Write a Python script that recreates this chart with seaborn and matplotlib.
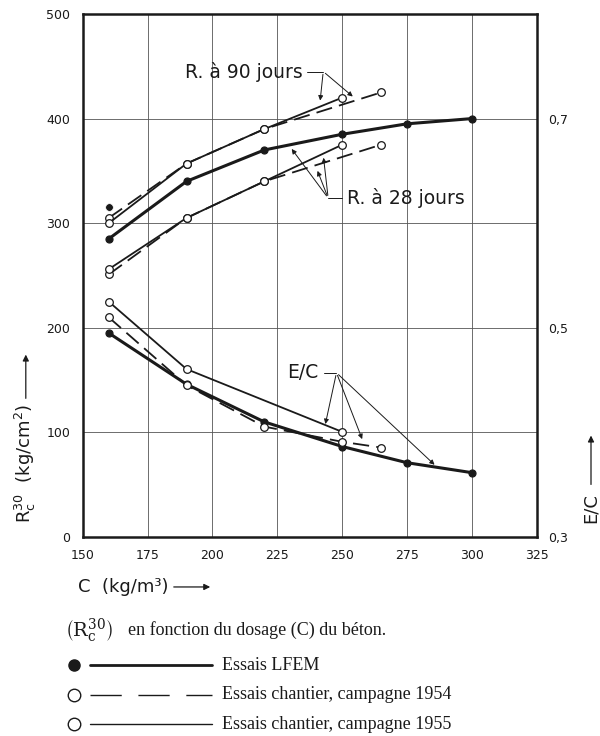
import matplotlib
matplotlib.use("Agg")
import matplotlib.pyplot as plt
import seaborn as sns
import pandas as pd
from matplotlib.lines import Line2D
from matplotlib import font_manager

sns.set_theme(style="white")
_names = {f.name for f in font_manager.fontManager.ttflist}
NARROW = "Liberation Sans Narrow" if "Liberation Sans Narrow" in _names else "DejaVu Sans"
SERIF = "Liberation Serif" if "Liberation Serif" in _names else "DejaVu Serif"
plt.rcParams["font.family"] = [NARROW, "DejaVu Sans"]
plt.rcParams["mathtext.fontset"] = "custom"
plt.rcParams["mathtext.rm"] = NARROW

# ---- data (left axis: R in kg/cm2; E/C values on right axis scale) ----
lfem_c28 = [160, 190, 220, 250, 275, 300]
lfem_r28 = [285, 340, 370, 385, 395, 400]
lfem_c90 = [160]
lfem_r90 = [315]
lfem_c_ec = [160, 190, 220, 250, 275, 300]
lfem_ec = [0.69, 0.592, 0.52, 0.473, 0.442, 0.423]

c54_c = [160, 190, 220, 265]
c54_r90 = [305, 357, 390, 425]
c54_r28 = [251, 305, 340, 375]
c54_c_ec = [160, 190, 220, 250, 265]
c54_ec = [0.72, 0.59, 0.511, 0.482, 0.471]

c55_c = [160, 190, 220, 250]
c55_r90 = [300, 357, 390, 420]
c55_r28 = [256, 305, 340, 375]
c55_c_ec = [160, 190, 250]
c55_ec = [0.75, 0.621, 0.501]

x_ticks = [150, 175, 200, 225, 250, 275, 300, 325]
y_ticks = [0, 100, 200, 300, 400, 500]
ec_ticks = [0.3, 0.5, 0.7]
ec_labels = ["0,3", "0,5", "0,7"]


def ec_to_r(v):
    return [(e - 0.3) / 0.002 for e in v]


fig = plt.figure(figsize=(6, 7.36), dpi=100)
ax = fig.add_axes([0.138, 0.2704, 0.7565, 0.7106])
ink = "#1a1a1a"

def draw(cx, vals, lw, dash, marker_fill):
    df = pd.DataFrame({"C": cx, "R": vals})
    sns.lineplot(data=df, x="C", y="R", ax=ax, color=ink, lw=lw,
                 linestyle=dash, marker="o", markersize=5 if marker_fill else 5.5,
                 markerfacecolor=ink if marker_fill else "white",
                 markeredgecolor=ink, markeredgewidth=0.9, zorder=3)

# LFEM (thick solid, filled dots)
draw(lfem_c28, lfem_r28, 2.2, "-", True)
draw(lfem_c_ec, ec_to_r(lfem_ec), 2.2, "-", True)
sns.scatterplot(x=lfem_c90, y=lfem_r90, ax=ax, color=ink, s=30, zorder=4)
# 1954 (dashed, open)
draw(c54_c, c54_r90, 1.3, (0, (9, 4)), False)
draw(c54_c, c54_r28, 1.3, (0, (9, 4)), False)
draw(c54_c_ec, ec_to_r(c54_ec), 1.3, (0, (9, 4)), False)
# 1955 (thin solid, open)
draw(c55_c, c55_r90, 1.3, "-", False)
draw(c55_c, c55_r28, 1.3, "-", False)
draw(c55_c_ec, ec_to_r(c55_ec), 1.3, "-", False)

ax.set_xlim(150, 325)
ax.set_ylim(0, 500)
ax.set_xticks(x_ticks)
ax.set_yticks(y_ticks)
ax.set_xlabel("")
ax.set_ylabel("")
ax.grid(True, color="#555555", lw=0.6)
for s in ax.spines.values():
    s.set_color(ink)
    s.set_linewidth(1.8)
ax.tick_params(length=0, labelsize=9, colors=ink, pad=9)

ax2 = ax.twinx()
ax2.set_ylim(0.3, 0.8)
ax2.set_yticks(ec_ticks)
ax2.set_yticklabels(ec_labels)
ax2.tick_params(length=0, labelsize=9, colors=ink, pad=8)
ax2.grid(False)
for s in ax2.spines.values():
    s.set_visible(False)

# annotations
tk = dict(fontsize=13.5, color=ink)
ax.text(189.4, 445, "R. à 90 jours", ha="left", va="center", **tk)
ax.text(251.7, 324, "R. à 28 jours", ha="left", va="center", **tk)
ax.text(228.6, 157, "E/C", ha="left", va="center", **tk)

ap = dict(arrowstyle="-|>", color=ink, lw=0.7, mutation_scale=7)
# 90 jours
ax.plot([236.3, 242.7], [445, 445], color=ink, lw=0.7)
ax.annotate("", xy=(241.4, 414.6), xytext=(242.7, 445), arrowprops=ap)
ax.annotate("", xy=(254.9, 419.4), xytext=(242.7, 445), arrowprops=ap)
# 28 jours
ax.plot([244.6, 250], [324, 324], color=ink, lw=0.7)
ax.annotate("", xy=(229.9, 373.1), xytext=(244.6, 324), arrowprops=ap)
ax.annotate("", xy=(240.1, 352.5), xytext=(244.6, 324), arrowprops=ap)
ax.annotate("", xy=(242.7, 365.2), xytext=(244.6, 324), arrowprops=ap)
# E/C
ax.plot([243, 247.8], [157, 157], color=ink, lw=0.7)
ax.annotate("", xy=(243.3, 105.4), xytext=(247.8, 157), arrowprops=ap)
ax.annotate("", xy=(258.1, 91.1), xytext=(247.8, 157), arrowprops=ap)
ax.annotate("", xy=(286.4, 67.2), xytext=(247.8, 157), arrowprops=ap)

# axis labels
lk = dict(fontsize=13, color=ink)
fap = dict(arrowstyle="-|>", color=ink, lw=0.9, mutation_scale=9)
fig.text(0.13, 0.2025, "C  (kg/m³)", ha="left", va="center", **lk)
ax.annotate("", xy=(0.355, 0.2025), xytext=(0.285, 0.2025), xycoords="figure fraction",
            textcoords="figure fraction", arrowprops=fap, annotation_clip=False)
fig.text(0.043, 0.37, r"$\mathrm{R}_\mathrm{c}^{30}$  (kg/cm$^2$)", rotation=90,
         ha="center", va="center", **lk)
ax.annotate("", xy=(0.043, 0.522), xytext=(0.043, 0.455), xycoords="figure fraction",
            textcoords="figure fraction", arrowprops=fap, annotation_clip=False)
fig.text(0.985, 0.31, "E/C", rotation=90, ha="center", va="center", **lk)
ax.annotate("", xy=(0.985, 0.412), xytext=(0.985, 0.338), xycoords="figure fraction",
            textcoords="figure fraction", arrowprops=fap, annotation_clip=False)

# legend block
sk = dict(fontsize=13, color=ink, family=SERIF)
fig.text(0.108, 0.144, r"$\left(\mathrm{R}^{30}_{\mathrm{c}}\right)$", ha="left", va="center",
         fontsize=14, color=ink, math_fontfamily="dejavuserif")
fig.text(0.213, 0.144, "en fonction du dosage (C) du béton.", ha="left", va="center", **sk)
rows = [0.096, 0.056, 0.016]
labels = ["Essais LFEM", "Essais chantier, campagne 1954", "Essais chantier, campagne 1955"]
styles = [("-", 2.0, True), ((0, (22.5, 12)), 1.0, False), ("-", 1.0, False)]
for yy, lab, (ls, lw, filled) in zip(rows, labels, styles):
    fig.add_artist(Line2D([0.123], [yy], marker="o", markersize=9 if not filled else 8,
                          markerfacecolor=ink if filled else "white",
                          markeredgecolor=ink, markeredgewidth=1.0, linestyle="none"))
    fig.add_artist(Line2D([0.15, 0.354], [yy, yy], color=ink, lw=lw, linestyle=ls))
    fig.text(0.37, yy, lab, ha="left", va="center", **sk)

fig.savefig("out.png", dpi=100, facecolor="white")
